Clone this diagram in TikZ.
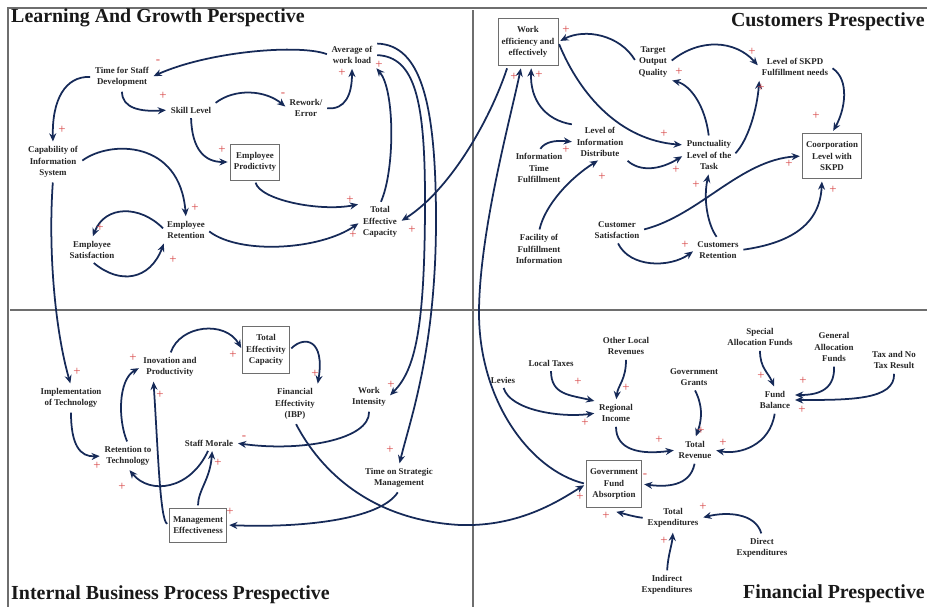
\documentclass[tikz,border=0pt]{standalone}
\usepackage{fontspec}
\setmainfont{Liberation Serif}
\usetikzlibrary{arrows.meta}
\definecolor{arrowblue}{RGB}{22,42,88}
\definecolor{signred}{RGB}{215,70,70}
\definecolor{framegray}{RGB}{110,110,110}

\begin{document}
\begin{tikzpicture}[x=0.03cm, y=0.03cm, shorten >=2pt, shorten <=2pt,
		node_style/.style={align=center,inner sep=2pt,text=black!85,font=\bfseries\fontsize{7.6}{9.8}\selectfont},
		box_style/.style={node_style,draw=framegray,line width=0.6pt,inner xsep=3pt,inner ysep=7pt},
		sign_style/.style={text=signred,inner sep=0pt,font=\fontsize{11}{11}\selectfont},
		title_style/.style={anchor=west,inner sep=0pt,text=black!90,font=\bfseries\fontsize{17}{20}\selectfont},
		edge_style/.style={draw=arrowblue,line width=1.5pt,-{Stealth[length=7pt,width=6pt]}},
		frame_style/.style={draw=framegray,line width=1.3pt}]

		\useasboundingbox (0,0) rectangle (927,609);
		\clip (0,0) rectangle (927,609);

		% frame and quarters
		\draw[frame_style] (8,0) -- (8,601) -- (940,601);
		\draw[frame_style] (8,299) -- (940,299);
		\draw[frame_style] (473,0) -- (473,601);

		\node[title_style] (t1) at (11,591) {Learning And Growth Perspective};
		\node[title_style,anchor=east] (t2) at (925,587) {Customers Prespective};
		\node[title_style] (t3) at (11,14) {Internal Business Process Prespective};
		\node[title_style,anchor=east] (t4) at (925,15) {Financial Prespective};

		% learning and growth
		\node[node_style] (tsd) at (122,532) {Time for Staff\\Development};
		\node[node_style] (skl) at (191,499) {Skill Level};
		\node[node_style] (cis) at (53,447)  {Capability of\\Information\\System};
		\node[box_style]  (epr) at (255,447) {Employee\\Prodictivty};
		\node[node_style] (ere) at (186,379) {Employee\\Retention};
		\node[node_style] (esa) at (92,359)  {Employee\\Satisfaction};
		\node[node_style] (rwe) at (306,501) {Rework/\\Error};
		\node[node_style] (awl) at (352,554) {Average of\\work load};
		\node[node_style] (tec) at (380,387) {Total\\Effective\\Capacity};

		% customers
		\node[box_style]  (wee) at (528,567) {Work\\efficiency and\\effectively};
		\node[node_style] (toq) at (653,547) {Target\\Output\\Quality};
		\node[node_style] (lsk) at (795,542) {Level of SKPD\\Fulfillment needs};
		\node[box_style]  (clk) at (832,453) {Coorporation\\Level with\\SKPD};
		\node[node_style] (lid) at (600,467) {Level of\\Information\\Distribute};
		\node[node_style] (itf) at (539,441) {Information\\Time\\Fulfillment};
		\node[node_style] (plt) at (709,454) {Punctuality\\Level of the\\Task};
		\node[node_style] (ffi) at (539,360) {Facility of\\Fulfillment\\Information};
		\node[node_style] (csa) at (617,379) {Customer\\Satisfaction};
		\node[node_style] (cre) at (718,359) {Customers\\Retention};

		% internal business process
		\node[node_style] (imt) at (71,211)  {Implementation\\of Technology};
		\node[node_style] (inp) at (170,242) {Inovation and\\Productivity};
		\node[node_style] (rtt) at (128,153) {Retention to\\Technology};
		\node[node_style] (smo) at (209,166) {Staff Morale};
		\node[box_style]  (mef) at (198,84)  {Management\\Effectiveness};
		\node[box_style]  (tfc) at (266,259) {Total\\Effectivity\\Capacity};
		\node[node_style] (fef) at (295,205) {Financial\\Effectivity\\(IBP)};
		\node[node_style] (win) at (369,212) {Work\\Intensity};
		\node[node_style] (tsm) at (399,131) {Time on Strategic\\Management};

		% financial
		\node[node_style] (lev) at (503,229) {Levies};
		\node[node_style] (ltx) at (551,246) {Local Taxes};
		\node[node_style] (olr) at (626,263) {Other Local\\Revenues};
		\node[node_style] (rin) at (616,196) {Regional\\Income};
		\node[node_style] (ggr) at (694,232) {Government\\Grants};
		\node[node_style] (saf) at (760,272) {Special\\Allocation Funds};
		\node[node_style] (gaf) at (834,262) {General\\Allocation\\Funds};
		\node[node_style] (tnt) at (894,249) {Tax and No\\Tax Result};
		\node[node_style] (fba) at (775,209) {Fund\\Balance};
		\node[node_style] (tre) at (695,159) {Total\\Revenue};
		\node[box_style]  (gfa) at (614,125) {Government\\Fund\\Absorption};
		\node[node_style] (tex) at (673,91)  {Total\\Expenditures};
		\node[node_style] (iex) at (667,24)  {Indirect\\Expenditures};
		\node[node_style] (dex) at (762,61)  {Direct\\Expenditures};

		% links, learning and growth
		\draw[edge_style] (awl.west) .. controls (300,565) and (210,558) .. (tsd.east);
		\draw[edge_style] (tsd.west) .. controls (65,533) and (52,509) .. (cis.north);
		\draw[edge_style] (tsd.south) .. controls (122,501) and (140,497) .. (skl.west);
		\draw[edge_style] (skl.north east) .. controls (235,521) and (265,519) .. (rwe.west);
		\draw[edge_style] (skl.south) .. controls (192,459) and (205,447) .. (epr.west);
		\draw[edge_style] (rwe.east) .. controls (345,499) and (352,514) .. (awl.south);
		\draw[edge_style] (cis.east) .. controls (110,469) and (180,469) .. (ere.north);
		\draw[edge_style] (ere.west) .. controls (140,404) and (105,404) .. (esa.north);
		\draw[edge_style] (esa.south) .. controls (120,324) and (150,329) .. (ere.south west);
		\draw[edge_style] (epr.south) .. controls (260,409) and (320,397) .. (tec.north west);
		\draw[edge_style] (ere.east) .. controls (240,354) and (320,359) .. (tec.west);
		\draw[edge_style] (tec.north) .. controls (395,439) and (395,519) .. (awl.south east);
		\draw[edge_style] (awl.east) .. controls (415,552) and (425,509) .. (425,409)
			.. controls (425,279) and (415,239) .. (win.east);
		\draw[edge_style] (awl.north east) .. controls (420,564) and (436,509) .. (436,389)
			.. controls (436,259) and (410,189) .. (tsm.north);
		\draw[edge_style] ([xshift=0.3cm]wee.south west) .. controls (490,489) and (450,419) .. (tec.east);

		% links, customers
		\draw[edge_style] (toq.west) .. controls (620,574) and (585,581) .. (wee.east);
		\draw[edge_style] (toq.east) .. controls (700,571) and (735,569) .. (lsk.west);
		\draw[edge_style] (plt.north) .. controls (705,504) and (690,524) .. (toq.south east);
		\draw[edge_style] (plt.east) .. controls (748,469) and (757,499) .. (lsk.south west);
		\draw[edge_style] (lsk.east) .. controls (850,529) and (845,499) .. (clk.north);
		\draw[edge_style] (wee.east) .. controls (580,514) and (620,469) .. ([yshift=0.3cm]plt.west);
		\draw[edge_style] (lid.north west) .. controls (545,489) and (530,509) .. ([xshift=0.1cm]wee.south);
		\draw[edge_style] (itf.north) .. controls (545,467) and (555,469) .. (lid.west);
		\draw[edge_style] (lid.south east) .. controls (640,437) and (660,439) .. (plt.west);
		\draw[edge_style] (ffi.north) .. controls (545,404) and (570,431) .. (lid.south);
		\draw[edge_style] (csa.east) .. controls (700,394) and (740,449) .. (clk.west);
		\draw[edge_style] (csa.south) .. controls (630,341) and (670,341) .. (cre.west);
		\draw[edge_style] (cre.north) .. controls (708,384) and (703,409) .. (plt.south);
		\draw[edge_style] (cre.east) .. controls (790,366) and (820,384) .. ([xshift=-0.3cm]clk.south);
		\draw[edge_style] (gfa.west) .. controls (530,139) and (478,209) .. (479,299)
			.. controls (480,379) and (510,489) .. ([xshift=-0.2cm]wee.south);

		% links, internal business process
		\draw[edge_style] (cis.south) .. controls (48,359) and (55,279) .. (imt.north);
		\draw[edge_style] (imt.south) .. controls (71,164) and (80,152) .. (rtt.west);
		\draw[edge_style] (rtt.north) .. controls (118,189) and (118,229) .. (inp.west);
		\draw[edge_style] (inp.north) .. controls (180,284) and (225,289) .. (tfc.west);
		\draw[edge_style] (tfc.east) .. controls (305,274) and (325,269) .. (fef.north east);
		\draw[edge_style] (win.south) .. controls (370,169) and (300,157) .. (smo.east);
		\draw[edge_style] (smo.south) .. controls (190,119) and (150,114) .. (rtt.south);
		\draw[edge_style] (mef.north) .. controls (198,119) and (210,129) .. ([xshift=0.1cm]smo.south);
		\draw[edge_style] (mef.west) .. controls (160,89) and (158,159) .. ([xshift=-0.5cm]inp.south);
		\draw[edge_style] (tsm.south) .. controls (380,89) and (300,81) .. (mef.east);
		\draw[edge_style] (fef.south) .. controls (320,139) and (370,89) .. (460,84)
			.. controls (520,82) and (560,109) .. (gfa.west);

		% links, financial
		\draw[edge_style] (lev.south) .. controls (510,199) and (560,191) .. (rin.west);
		\draw[edge_style] (ltx.south) .. controls (551,214) and (570,214) .. (rin.north west);
		\draw[edge_style] (olr.south) .. controls (626,229) and (618,224) .. (rin.north);
		\draw[edge_style] (rin.south) .. controls (616,159) and (640,154) .. (tre.west);
		\draw[edge_style] (ggr.south) .. controls (705,199) and (700,184) .. (tre.north);
		\draw[edge_style] (fba.south) .. controls (770,164) and (740,154) .. (tre.east);
		\draw[edge_style] (saf.south) .. controls (760,241) and (768,237) .. (fba.north);
		\draw[edge_style] (gaf.south) .. controls (835,217) and (815,214) .. ([yshift=0.15cm]fba.east);
		\draw[edge_style] (tnt.south) .. controls (895,209) and (850,209) .. (fba.east);
		\draw[edge_style] (tre.south) .. controls (690,122) and (665,122) .. (gfa.east);
		\draw[edge_style] (tex.west) .. controls (635,92) and (625,95) .. ([yshift=-0.1cm]gfa.south);
		\draw[edge_style] (iex.north) .. controls (668,54) and (672,64) .. (tex.south);
		\draw[edge_style] (dex.north) .. controls (755,97) and (725,97) .. (tex.east);

		% polarity signs
		\node[sign_style] (s1)  at (158,547) {-};
		\node[sign_style] (s2)  at (163,513) {+};
		\node[sign_style] (s3)  at (62,479)  {+};
		\node[sign_style] (s4)  at (222,459) {+};
		\node[sign_style] (s5)  at (195,401) {+};
		\node[sign_style] (s6)  at (100,381) {+};
		\node[sign_style] (s7)  at (173,349) {+};
		\node[sign_style] (s8)  at (283,514) {-};
		\node[sign_style] (s9)  at (342,536) {+};
		\node[sign_style] (s10) at (379,544) {+};
		\node[sign_style] (s11) at (350,409) {+};
		\node[sign_style] (s12) at (353,374) {+};
		\node[sign_style] (s13) at (412,379) {+};
		\node[sign_style] (s14) at (566,579) {+};
		\node[sign_style] (s15) at (514,532) {+};
		\node[sign_style] (s16) at (539,534) {+};
		\node[sign_style] (s17) at (679,537) {+};
		\node[sign_style] (s18) at (752,557) {+};
		\node[sign_style] (s19) at (761,521) {+};
		\node[sign_style] (s20) at (816,493) {+};
		\node[sign_style] (s21) at (833,419) {+};
		\node[sign_style] (s22) at (789,445) {+};
		\node[sign_style] (s23) at (566,459) {+};
		\node[sign_style] (s24) at (664,475) {+};
		\node[sign_style] (s25) at (676,439) {+};
		\node[sign_style] (s26) at (602,432) {+};
		\node[sign_style] (s27) at (685,364) {+};
		\node[sign_style] (s28) at (696,424) {+};
		\node[sign_style] (s29) at (77,237)  {+};
		\node[sign_style] (s30) at (133,251) {+};
		\node[sign_style] (s31) at (160,214) {+};
		\node[sign_style] (s32) at (97,143)  {+};
		\node[sign_style] (s33) at (122,122) {+};
		\node[sign_style] (s34) at (218,146) {+};
		\node[sign_style] (s35) at (230,97)  {+};
		\node[sign_style] (s36) at (244,171) {-};
		\node[sign_style] (s37) at (233,254) {+};
		\node[sign_style] (s38) at (315,235) {+};
		\node[sign_style] (s39) at (391,224) {+};
		\node[sign_style] (s40) at (390,159) {+};
		\node[sign_style] (s41) at (578,227) {+};
		\node[sign_style] (s42) at (585,186) {+};
		\node[sign_style] (s43) at (626,221) {+};
		\node[sign_style] (s44) at (659,169) {+};
		\node[sign_style] (s45) at (701,178) {+};
		\node[sign_style] (s46) at (723,166) {+};
		\node[sign_style] (s47) at (761,233) {+};
		\node[sign_style] (s48) at (803,228) {+};
		\node[sign_style] (s49) at (802,199) {+};
		\node[sign_style] (s50) at (645,133) {-};
		\node[sign_style] (s51) at (580,112) {+};
		\node[sign_style] (s52) at (606,93)  {+};
		\node[sign_style] (s53) at (703,102) {+};
		\node[sign_style] (s54) at (664,68)  {+};

\end{tikzpicture}
\end{document}
